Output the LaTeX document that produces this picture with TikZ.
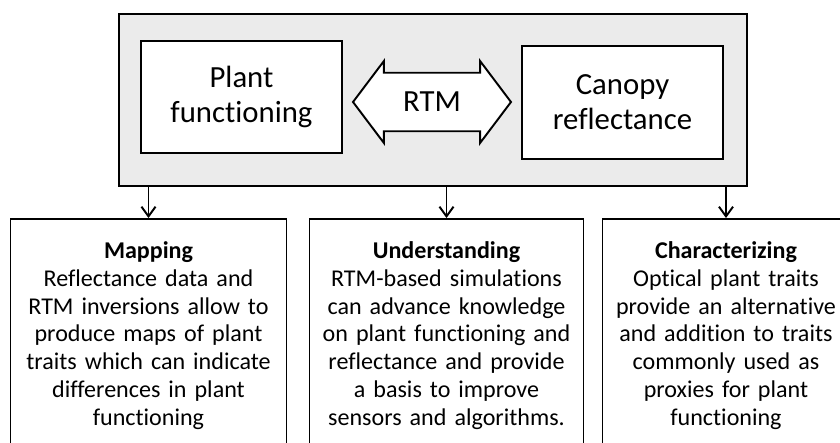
\documentclass[tikz,border=0pt]{standalone}
\usepackage{fontspec}
\setmainfont{Carlito}[Ligatures=NoCommon]
\usetikzlibrary{positioning,shapes.arrows,arrows.meta}
\definecolor{panelgray}{HTML}{EBEBEB}
\tikzset{panel box/.style={draw,line width=1.1pt,fill=panelgray,minimum width=12.56cm,minimum height=3.44cm,inner sep=0pt},
	main box/.style={draw,line width=1.1pt,fill=white,minimum width=4.02cm,minimum height=2.25cm,align=center,inner sep=0pt,font=\fontsize{17.5}{19.8}\selectfont},
	role box/.style={draw,line width=1.1pt,anchor=north,align=center,inner xsep=2pt,inner ysep=13pt,font=\fontsize{13.7}{15.8}\selectfont},
	down arrow/.style={line width=1.1pt,-{Straight Barb[length=5.5pt,width=8pt]}},
}

\begin{document}
\begin{tikzpicture}[x=0.02cm,y=-0.02cm]
				\useasboundingbox (0,0) rectangle (840,443);
				\node[panel box] (panel) at (433,100) {};
				\node[main box] (plant) at (241.5,97) {Plant\\functioning};
				\node[main box] (canopy) at (622.5,102.5) {Canopy\\reflectance};
				\node[double arrow,draw,fill=white,line width=1.1pt,minimum height=3.16cm,double arrow head extend=0.234cm,double arrow tip angle=106,inner xsep=0pt,inner ysep=10.5pt,font=\fontsize{17.5}{19.8}\selectfont] (rtm) at (432,102) {RTM};
				
				\node[role box,text width=5.38cm] (mapping) at (148.5,218) {\textbf{Mapping}\\Reflectance data and\\RTM inversions allow to\\produce maps of plant\\traits which can indicate\\differences in plant\\functioning};
				\node[role box,text width=5.34cm] (understanding) at (446.5,218) {\textbf{Understanding}\\RTM-based simulations\\can advance knowledge\\on plant functioning and\\reflectance and provide\\a basis to improve\\sensors and algorithms.};
				\node[role box,text width=4.8cm] (characterizing) at (726,218) {\textbf{Characterizing}\\Optical plant traits\\provide an alternative\\and addition to traits\\commonly used as\\proxies for plant\\functioning};
				
				\draw[down arrow] (mapping.north |- panel.south) -- (mapping.north);
				\draw[down arrow] (understanding.north |- panel.south) -- (understanding.north);
				\draw[down arrow] (characterizing.north |- panel.south) -- (characterizing.north);
				
			\end{tikzpicture}
\end{document}
